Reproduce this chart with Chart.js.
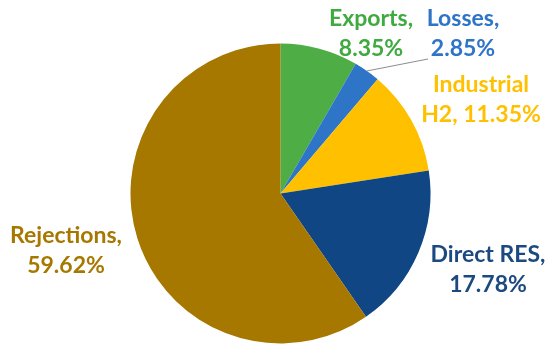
<!DOCTYPE html>
<html><head><meta charset="utf-8">
<script src="https://cdn.jsdelivr.net/npm/chart.js@4/dist/chart.umd.min.js"></script>
<style>html,body{margin:0;padding:0;background:#fff;}#wrap{width:550px;height:352px;position:relative;}</style>
</head><body><div id="wrap"><canvas id="c" width="550" height="352"></canvas></div>
<script>
const categories = ["Exports", "Losses", "Industrial H2", "Direct RES", "Rejections"];
const shares = [8.35, 2.85, 11.35, 17.78, 59.62];
const sliceColors = ["#4EAD45", "#2E75C8", "#FFC000", "#0F4683", "#A67800"];
const labelColors = ["#3FAA3F", "#2E74C8", "#FFC000", "#1C4A80", "#A67800"];
// label lines and anchor (centre x, first baseline y) — layout only
const labelLines = [["Exports,", "8.35%"], ["Losses,", "2.85%"], ["Industrial", "H2, 11.35%"], ["Direct RES,", "17.78%"], ["Rejections,", "59.62%"]];
const labelPos = [[371, 26], [463, 26], [481, 92], [488, 262], [66, 243]];

const labelPlugin = {
  id: 'pieLabels',
  afterDatasetsDraw(chart) {
    const ctx = chart.ctx;
    ctx.save();
    // leader line for Losses
    const arc = chart.getDatasetMeta(0).data[1];
    const mid = (arc.startAngle + arc.endAngle) / 2;
    const sx = arc.x + Math.cos(mid) * arc.outerRadius;
    const sy = arc.y + Math.sin(mid) * arc.outerRadius;
    ctx.strokeStyle = '#8c8c8c';
    ctx.lineWidth = 1;
    ctx.beginPath();
    ctx.moveTo(sx, sy);
    ctx.lineTo(428, 59);
    ctx.stroke();
    ctx.font = 'bold 23px Lato, "Open Sans", sans-serif';
    ctx.textAlign = 'center';
    ctx.textBaseline = 'alphabetic';
    labelLines.forEach((lines, i) => {
      ctx.fillStyle = labelColors[i];
      lines.forEach((t, j) => ctx.fillText(t, labelPos[i][0], labelPos[i][1] + j * 30));
    });
    ctx.restore();
  }
};

new Chart(document.getElementById('c'), {
  type: 'pie',
  data: {
    labels: categories,
    datasets: [{ data: shares, backgroundColor: sliceColors, borderWidth: 0 }]
  },
  options: {
    responsive: false,
    animation: false,
    layout: { padding: { top: 43.5, bottom: 8.5, left: 130.5, right: 119.5 } },
    plugins: { legend: { display: false }, tooltip: { enabled: false } }
  },
  plugins: [labelPlugin]
});
</script></body></html>
